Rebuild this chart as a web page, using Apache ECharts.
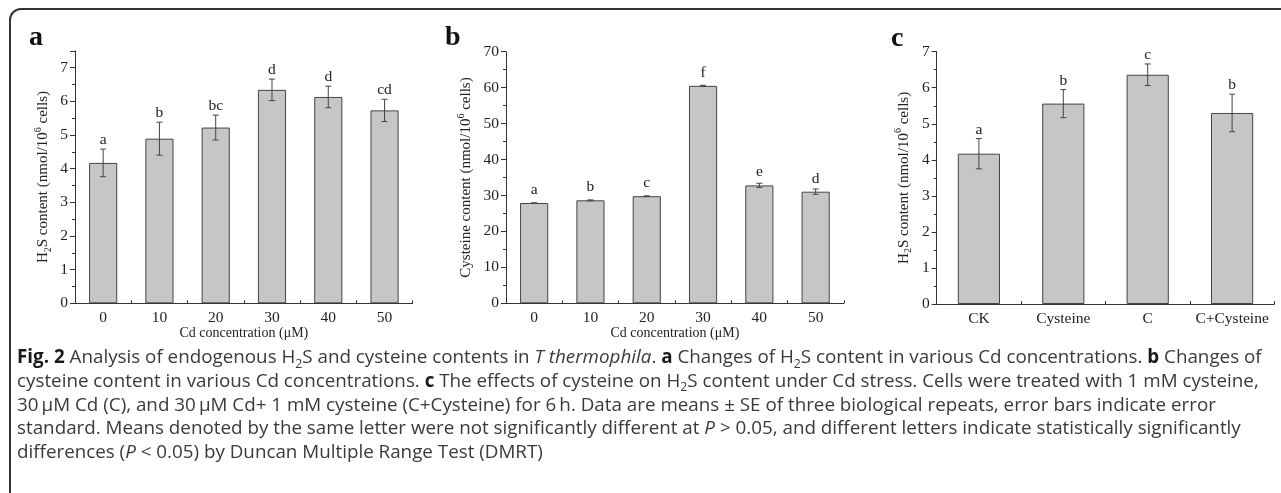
<!DOCTYPE html>
<html><head><meta charset="utf-8">
<script src="https://cdn.jsdelivr.net/npm/echarts/dist/echarts.min.js"></script>
<style>html,body{margin:0;padding:0;background:#fff}#c{width:1281px;height:493px}</style>
</head><body><div id="c"></div>
<script>
// ---------- data ----------
const catsA = ['0', '10', '20', '30', '40', '50'];
const h2sA = [4.17, 4.89, 5.22, 6.34, 6.13, 5.73];
const errA = [0.41, 0.49, 0.37, 0.32, 0.32, 0.33];
const letA = ['a', 'b', 'bc', 'd', 'd', 'cd'];

const catsB = ['0', '10', '20', '30', '40', '50'];
const cysB = [27.9, 28.65, 29.8, 60.5, 32.8, 31.05];
const errB = [0.05, 0.12, 0.1, 0.15, 0.6, 0.75];
const letB = ['a', 'b', 'c', 'f', 'e', 'd'];

const catsC = ['CK', 'Cysteine', 'C', 'C+Cysteine'];
const h2sC = [4.17, 5.56, 6.36, 5.30];
const errC = [0.42, 0.39, 0.30, 0.52];
const letC = ['a', 'b', 'c', 'b'];

const yMaxA = 7.5, yStepA = 1;
const yMaxB = 70, yStepB = 10;
const yMaxC = 7, yStepC = 1;

const xTitle = 'Cd concentration (\u03bcM)';
const panelLabels = ['a', 'b', 'c'];

const captionLines = [
  [['b','Fig. 2'],['n',' Analysis of endogenous H'],['s','2'],['n','S and cysteine contents in '],['i','T thermophila'],['n','. '],['b','a'],['n',' Changes of H'],['s','2'],['n','S content in various Cd concentrations. '],['b','b'],['n',' Changes of']],
  [['n','cysteine content in various Cd concentrations. '],['b','c'],['n',' The effects of cysteine on H'],['s','2'],['n','S content under Cd stress. Cells were treated with 1 mM cysteine,']],
  [['n','30\u2009\u03bcM Cd (C), and 30\u2009\u03bcM Cd+ 1 mM cysteine (C+Cysteine) for 6\u2009h. Data are means \u00b1 SE of three biological repeats, error bars indicate error']],
  [['n','standard. Means denoted by the same letter were not significantly different at '],['i','P'],['n',' > 0.05, and different letters indicate statistically significantly']],
  [['n','differences ('],['i','P'],['n',' < 0.05) by Duncan Multiple Range Test (DMRT)']]
];

// ---------- styles ----------
const SERIF = '"Liberation Serif", "Times New Roman", serif';
const SANS = '"Open Sans", "Noto Sans", sans-serif';
const AX = '#333';
const BAR = '#c6c6c6';

// caption font size fitted to first line width
const ctx = document.createElement('canvas').getContext('2d');
function segWidth(seg, fs) {
  const st = seg[0];
  const size = st === 's' ? fs * 0.65 : fs;
  ctx.font = (st === 'i' ? 'italic ' : '') + (st === 'b' ? 'bold ' : '') + size + 'px ' + SANS;
  return ctx.measureText(seg[1]).width;
}
const targetW = 1245;
const w100 = captionLines[0].reduce((s, g) => s + segWidth(g, 100), 0);
const capFs = Math.max(12, Math.min(22, 100 * targetW / w100));

function esc(t) { return t.replace(/[{}|]/g, ''); }
function buildRich(line) { return line.map(g => '{' + g[0] + '|' + esc(g[1]) + '}').join(''); }
const capLH = capFs * 1.3;
const capRich = {
  n: { fontSize: capFs, fontFamily: SANS, fill: '#3a3a3a', lineHeight: capLH },
  b: { fontSize: capFs, fontFamily: SANS, fontWeight: 'bold', fill: '#1a1a1a', lineHeight: capLH },
  i: { fontSize: capFs, fontFamily: SANS, fontStyle: 'italic', fill: '#3a3a3a', lineHeight: capLH },
  s: { fontSize: capFs * 0.65, fontFamily: SANS, fill: '#3a3a3a', verticalAlign: 'bottom', lineHeight: capFs * 0.62 }
};

const nameRich = {
  n: { fontSize: 15, fontFamily: SERIF, color: '#222', lineHeight: 20 },
  s: { fontSize: 10, fontFamily: SERIF, color: '#222', verticalAlign: 'bottom', lineHeight: 9 },
  p: { fontSize: 10, fontFamily: SERIF, color: '#222', verticalAlign: 'top', lineHeight: 9 }
};
const h2sName = '{n|H}{s|2}{n|S content (nmol/10}{p|6}{n| cells)}';
const cysName = '{n|Cysteine content (nmol/10}{p|6}{n| cells)}';

const grids = [
  { left: 75, top: 50.8, width: 337.7, height: 252.5 },
  { left: 506, top: 51.7, width: 337.8, height: 251.6 },
  { left: 936.7, top: 51.7, width: 337.6, height: 252.3 }
];

function mainX(gi, cats, name) {
  return {
    type: 'category', gridIndex: gi, data: cats, position: 'bottom',
    name: name, nameLocation: 'middle', nameGap: 23, nameMoveOverlap: false,
    nameTextStyle: { fontFamily: SERIF, fontSize: 14, color: '#222' },
    axisLine: { lineStyle: { color: AX, width: 1 } },
    axisTick: { alignWithLabel: true, length: 4, lineStyle: { color: AX } },
    axisLabel: { fontFamily: SERIF, fontSize: 15.5, color: '#222', margin: 7, interval: 0 },
    splitLine: { show: false }
  };
}
function tickX(gi, cats) {
  return {
    type: 'category', gridIndex: gi, data: cats, position: 'bottom',
    axisLine: { show: false },
    axisTick: { show: true, inside: true, length: 3, lineStyle: { color: AX } },
    axisLabel: { show: false }, splitLine: { show: false }
  };
}
function mainY(gi, max, step, name, gap) {
  return {
    type: 'value', gridIndex: gi, min: 0, max: max, interval: step, position: 'left',
    name: name, nameLocation: 'middle', nameGap: gap,
    nameTextStyle: { rich: nameRich },
    axisLine: { show: true, lineStyle: { color: AX, width: 1 } },
    axisTick: { show: true, length: 5, lineStyle: { color: AX } },
    axisLabel: { fontFamily: SERIF, fontSize: 15.5, color: '#222', margin: 7,
      formatter: v => (Math.abs(v / step - Math.round(v / step)) < 1e-6 ? String(v) : '') },
    splitLine: { show: false }
  };
}
function minorY(gi, max, step) {
  return {
    type: 'value', gridIndex: gi, min: 0, max: max, interval: step / 2, position: 'left',
    axisLine: { show: false },
    axisTick: { show: true, length: 3, lineStyle: { color: AX } },
    axisLabel: { show: false }, splitLine: { show: false }
  };
}

function barSeries(k, vals) {
  return {
    type: 'bar', xAxisIndex: 2 * k, yAxisIndex: 2 * k, data: vals, barWidth: '50%',
    itemStyle: { color: BAR, borderColor: '#444', borderWidth: 1 },
    silent: true
  };
}
function errSeries(k, vals, errs, lets) {
  return {
    type: 'custom', xAxisIndex: 2 * k, yAxisIndex: 2 * k, z: 10, silent: true,
    data: vals.map((v, i) => [i, v, errs[i]]),
    renderItem(params, api) {
      const i = api.value(0), v = api.value(1), e = api.value(2);
      const top = api.coord([i, v + e]);
      const bot = api.coord([i, v - e]);
      const barTop = api.coord([i, v]);
      const x = top[0];
      const cw = 3;
      const ls = { stroke: '#444', lineWidth: 1 };
      const ty = Math.min(top[1] - 9, barTop[1] - 13);
      return {
        type: 'group',
        children: [
          { type: 'line', shape: { x1: x, y1: top[1], x2: x, y2: bot[1] }, style: ls },
          { type: 'line', shape: { x1: x - cw, y1: top[1], x2: x + cw, y2: top[1] }, style: ls },
          { type: 'line', shape: { x1: x - cw, y1: bot[1], x2: x + cw, y2: bot[1] }, style: ls },
          { type: 'text', style: { text: lets[params.dataIndex], x: x, y: ty, align: 'center',
            verticalAlign: 'middle', font: '15.5px ' + SERIF, fill: '#222' } }
        ]
      };
    }
  };
}

const graphics = [
  { type: 'rect', shape: { x: 10, y: 9, width: 1320, height: 540, r: 11 },
    style: { fill: 'none', stroke: '#333', lineWidth: 2 }, silent: true },
  { type: 'text', style: { text: panelLabels[0], x: 29, y: 38, verticalAlign: 'middle', font: 'bold 28px ' + SERIF, fill: '#111' } },
  { type: 'text', style: { text: panelLabels[1], x: 445, y: 38, verticalAlign: 'middle', font: 'bold 28px ' + SERIF, fill: '#111' } },
  { type: 'text', style: { text: panelLabels[2], x: 891, y: 39, verticalAlign: 'middle', font: 'bold 28px ' + SERIF, fill: '#111' } }
];
captionLines.forEach((line, k) => {
  graphics.push({ type: 'text', silent: true,
    style: { text: buildRich(line), rich: capRich, x: 17, y: 358 + 23.6 * k, verticalAlign: 'middle', align: 'left' } });
});

const option = {
  animation: false,
  backgroundColor: '#fff',
  grid: grids,
  xAxis: [mainX(0, catsA, xTitle), tickX(0, catsA), mainX(1, catsB, xTitle), tickX(1, catsB), mainX(2, catsC, ''), tickX(2, catsC)],
  yAxis: [mainY(0, yMaxA, yStepA, h2sName, 22), minorY(0, yMaxA, yStepA),
          mainY(1, yMaxB, yStepB, cysName, 30), minorY(1, yMaxB, yStepB),
          mainY(2, yMaxC, yStepC, h2sName, 23), minorY(2, yMaxC, yStepC)],
  series: [barSeries(0, h2sA), errSeries(0, h2sA, errA, letA),
           barSeries(1, cysB), errSeries(1, cysB, errB, letB),
           barSeries(2, h2sC), errSeries(2, h2sC, errC, letC)],
  graphic: graphics
};
const chart = echarts.init(document.getElementById('c'), null, { renderer: 'canvas' });
chart.setOption(option);
</script></body></html>
